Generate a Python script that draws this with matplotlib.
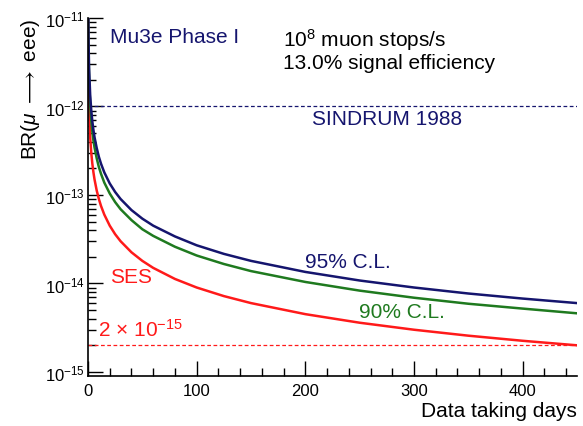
import matplotlib
matplotlib.use("Agg")
import matplotlib.pyplot as plt
from matplotlib.ticker import MultipleLocator, FixedLocator, NullFormatter

plt.rcParams['font.family'] = ['Liberation Sans', 'DejaVu Sans']
plt.rcParams['mathtext.fontset'] = 'custom'
plt.rcParams['mathtext.rm'] = 'Liberation Sans'
plt.rcParams['mathtext.it'] = 'Liberation Sans:italic'
plt.rcParams['mathtext.fallback'] = 'stixsans'

# values
days = [0.05, 0.1, 0.2, 0.5, 1, 2, 3, 4, 5, 6, 8, 10, 12, 15, 20, 25, 30,
        40, 50, 60, 80, 100, 125, 150, 200, 250, 300, 350, 400, 450]
ses = [1.8e-11, 9e-12, 4.5e-12, 1.8e-12, 9e-13, 4.5e-13, 3e-13, 2.25e-13,
       1.8e-13, 1.5e-13, 1.125e-13, 9e-14, 7.5e-14, 6e-14, 4.5e-14, 3.6e-14,
       3e-14, 2.25e-14, 1.8e-14, 1.5e-14, 1.125e-14, 9e-15, 7.2e-15, 6e-15,
       4.5e-15, 3.6e-15, 3e-15, 2.57e-15, 2.25e-15, 2e-15]
cl90 = [4.1e-11, 2.07e-11, 1.04e-11, 4.1e-12, 2.07e-12, 1.04e-12, 6.9e-13,
        5.2e-13, 4.1e-13, 3.45e-13, 2.6e-13, 2.07e-13, 1.73e-13, 1.38e-13,
        1.04e-13, 8.3e-14, 6.9e-14, 5.2e-14, 4.1e-14, 3.45e-14, 2.6e-14,
        2.07e-14, 1.66e-14, 1.38e-14, 1.04e-14, 8.3e-15, 6.9e-15, 5.9e-15,
        5.2e-15, 4.6e-15]
cl95 = [5.4e-11, 2.7e-11, 1.35e-11, 5.4e-12, 2.7e-12, 1.35e-12, 9e-13,
        6.75e-13, 5.4e-13, 4.5e-13, 3.4e-13, 2.7e-13, 2.25e-13, 1.8e-13,
        1.35e-13, 1.08e-13, 9e-14, 6.75e-14, 5.4e-14, 4.5e-14, 3.4e-14,
        2.7e-14, 2.16e-14, 1.8e-14, 1.35e-14, 1.08e-14, 9e-15, 7.7e-15,
        6.75e-15, 6e-15]
sindrum = 1e-12
ses_goal = 2e-15
decades = [-15, -14, -13, -12, -11]

navy = '#15156e'
green = '#1f7a1f'
red = '#ff1a1a'

fig = plt.figure(figsize=(5.83, 4.27), dpi=100)
ax = fig.add_axes([88 / 583, 1 - 377 / 427, 489 / 583, 358 / 427])

ax.axhline(sindrum, color=navy, lw=0.9, ls=(0, (3, 2)))
ax.axhline(ses_goal, color=red, lw=0.9, ls=(0, (3, 2)))
ax.plot(days, ses, color=red, lw=1.8)
ax.plot(days, cl90, color=green, lw=1.8)
ax.plot(days, cl95, color=navy, lw=1.8)

ax.set_yscale('log')
ax.set_xlim(0, 450)
ax.set_ylim(0.9e-15, 1e-11)

ax.spines['top'].set_visible(False)
ax.spines['right'].set_visible(False)
for s in ['left', 'bottom']:
    ax.spines[s].set_linewidth(1.2)

ax.xaxis.set_major_locator(MultipleLocator(100))
ax.xaxis.set_minor_locator(MultipleLocator(20))
ax.set_yticks([10.0 ** d for d in decades])
ax.set_yticklabels([r'10$^{%d}$' % d for d in decades])
minor = [k * 10.0 ** d for d in decades[:-1] for k in range(2, 10)]
ax.yaxis.set_minor_locator(FixedLocator(minor))
ax.yaxis.set_minor_formatter(NullFormatter())
ax.tick_params(which='major', direction='in', length=11, width=1, labelsize=12)
ax.tick_params(which='minor', direction='in', length=6, width=1)
ax.tick_params(axis='x', pad=5)
ax.tick_params(axis='y', pad=2)

ax.set_xlabel('Data taking days', fontsize=15, loc='right', labelpad=2)
ax.set_ylabel(r'BR($\mu$ $\longrightarrow$ eee)', fontsize=15, loc='top', labelpad=2)

tr = ax.transAxes
ax.text(0.045, 0.947, 'Mu3e Phase I', color=navy, fontsize=15, va='center', transform=tr)
ax.text(0.399, 0.941, r'10$^{8}$ muon stops/s', color='black', fontsize=15, va='center', transform=tr)
ax.text(0.399, 0.877, '13.0% signal efficiency', color='black', fontsize=15, va='center', transform=tr)
ax.text(0.458, 0.718, 'SINDRUM 1988', color=navy, fontsize=15, va='center', transform=tr)
ax.text(0.444, 0.321, '95% C.L.', color=navy, fontsize=15, va='center', transform=tr)
ax.text(0.554, 0.179, '90% C.L.', color=green, fontsize=15, va='center', transform=tr)
ax.text(0.045, 0.277, 'SES', color=red, fontsize=15, va='center', transform=tr)
ax.text(0.020, 0.131, r'2 $\times$ 10$^{-15}$', color=red, fontsize=15, va='center', transform=tr)

fig.savefig('out.png', dpi=100)
